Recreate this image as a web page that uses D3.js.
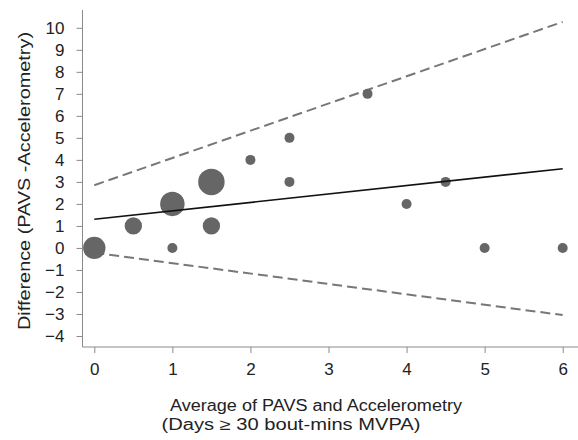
<!DOCTYPE html>
<html>
<head>
<meta charset="utf-8">
<script src="https://cdn.jsdelivr.net/npm/d3@7"></script>
<style>
    body { margin: 0; background: #fff; }
    text { font-family: "Liberation Sans", Arial, sans-serif; fill: #222; }
</style>
</head>
<body>
<div id="chart"></div>
<script>
// average (x), difference (y), number of participants at that point
let avgValues = [0, 0.5, 1, 1, 1.5, 1.5, 2, 2.5, 2.5, 3.5, 4, 4.5, 5, 6];
let diffValues = [0, 1, 0, 2, 3, 1, 4, 5, 3, 7, 2, 3, 0, 0];
let counts = [5, 3, 1, 6, 7, 3, 1, 1, 1, 1, 1, 1, 1, 1];

// regression lines, values at x = 0 and x = 6
let meanLine = [[0, 1.3], [6, 3.6]];
let upperLine = [[0, 2.85], [6, 10.27]];
let lowerLine = [[0, -0.22], [6, -3.05]];

let xTicks = [0, 1, 2, 3, 4, 5, 6];
let yTicks = [-4, -3, -2, -1, 0, 1, 2, 3, 4, 5, 6, 7, 8, 9, 10];

function drawChart() {
    let width = 578,
        height = 440;

    let svg = d3.select("#chart")
        .append("svg")
        .attr("width", width)
        .attr("height", height);

    let x = d3.scaleLinear()
        .domain([0, 6])
        .range([94.3, 562.7]);

    let y = d3.scaleLinear()
        .domain([-4, 10])
        .range([336, 27.8]);

    let r = d3.scaleSqrt()
        .domain([0, 1])
        .range([0, 5]);

    let axisColor = "#8a8a8a";

    // y axis
    let yAxis = d3.axisLeft(y)
        .tickValues(yTicks)
        .tickSize(6)
        .tickPadding(12)
        .tickFormat(d3.format("d"));

    let gy = svg.append("g")
        .attr("transform", "translate(82.5,0)")
        .call(yAxis);

    gy.select(".domain")
        .attr("d", "M0,10V347")
        .style("stroke", axisColor);
    gy.selectAll(".tick line").style("stroke", axisColor);
    gy.selectAll(".tick text")
        .attr("font-size", 17)
        .style("fill", "#222")
        .style("font-family", "Liberation Sans, Arial, sans-serif");

    // x axis
    let xAxis = d3.axisBottom(x)
        .tickValues(xTicks)
        .tickSize(6)
        .tickPadding(10)
        .tickFormat(d3.format("d"));

    let gx = svg.append("g")
        .attr("transform", "translate(0,347)")
        .call(xAxis);

    gx.select(".domain")
        .attr("d", "M82.5,0H578")
        .style("stroke", axisColor);
    gx.selectAll(".tick line").style("stroke", axisColor);
    gx.selectAll(".tick text")
        .attr("font-size", 17)
        .style("fill", "#222")
        .style("font-family", "Liberation Sans, Arial, sans-serif");

    // axis titles
    svg.append("text")
        .attr("x", 316)
        .attr("y", 411)
        .attr("text-anchor", "middle")
        .attr("font-size", 16)
        .attr("textLength", 292)
        .attr("lengthAdjust", "spacingAndGlyphs")
        .text("Average of PAVS and Accelerometry");

    svg.append("text")
        .attr("x", 291)
        .attr("y", 430)
        .attr("text-anchor", "middle")
        .attr("font-size", 16)
        .attr("textLength", 259)
        .attr("lengthAdjust", "spacingAndGlyphs")
        .text("(Days \u2265 30 bout-mins MVPA)");

    svg.append("text")
        .attr("transform", "translate(30,181) rotate(-90)")
        .attr("text-anchor", "middle")
        .attr("font-size", 16)
        .attr("textLength", 298)
        .attr("lengthAdjust", "spacingAndGlyphs")
        .text("Difference (PAVS -Accelerometry)");

    let line = d3.line()
        .x(function (d) { return x(d[0]); })
        .y(function (d) { return y(d[1]); });

    [upperLine, lowerLine].forEach(function (l) {
        svg.append("path")
            .attr("d", line(l))
            .style("fill", "none")
            .style("stroke", "#777")
            .style("stroke-width", 2)
            .style("stroke-dasharray", "10,5");
    });

    let points = avgValues.map(function (d, i) {
        return { avg: d, diff: diffValues[i], n: counts[i] };
    });

    svg.selectAll(".pt")
        .data(points)
        .enter()
        .append("circle")
        .attr("class", "pt")
        .attr("cx", function (d) { return x(d.avg); })
        .attr("cy", function (d) { return y(d.diff); })
        .attr("r", function (d) { return r(d.n); })
        .style("fill", "#666");

    svg.append("path")
        .attr("d", line(meanLine))
        .style("fill", "none")
        .style("stroke", "#111")
        .style("stroke-width", 1.6);
}

drawChart();
</script>
</body>
</html>
